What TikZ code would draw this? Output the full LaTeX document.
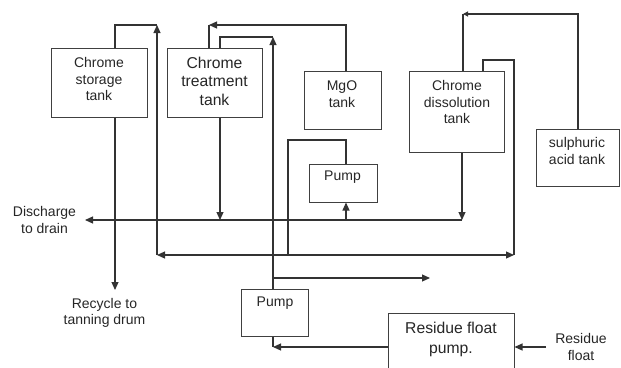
\documentclass[tikz,border=0pt]{standalone}
\usepackage{fontspec}
\setmainfont{Liberation Sans}
\usetikzlibrary{arrows.meta}
\newcommand{\tank}[5]{\node[tank, minimum width=#4pt-#2pt, minimum height=#5pt-#3pt] (#1) at ({(#2+#4)/2},{(#3+#5)/2}) {};}
\newcommand{\tanktext}[4]{\node[tanklabel] (#1) at (#2,#3) {#4};}
\tikzset{
  tank/.style={draw=black!75, line width=1pt, inner sep=0pt},
  tanklabel/.style={align=center, inner sep=0pt, text=black!85, font=\fontsize{14}{16.5}\selectfont},
  biglabel/.style={tanklabel, font=\fontsize{15.7}{18.5}\selectfont},
  pipe/.style={draw=black!80, line width=1.1pt},
  flow/.style={pipe, -{Triangle[length=8pt,width=7pt]}},
  smallflow/.style={pipe, -{Triangle[length=5pt,width=5pt]}}
}
\begin{document}
\begin{tikzpicture}[x=1pt,y=-1pt]
    \useasboundingbox (0,0) rectangle (621,367);
    \clip (0,0) rectangle (621,367);

    % tanks and pumps
    \tank{cst}{51}{48}{147}{117}
    \tank{ctt}{167}{48}{262}{117}
    \tank{mgo}{304}{71}{381}{129}
    \tank{cdt}{409}{71}{504}{152}
    \tank{sat}{536}{129}{619}{186}
    \tank{pumpA}{309}{164}{377}{202}
    \tank{pumpB}{241}{289}{308}{336}
    \tank{rfp}{388}{313}{514}{380}

    \tanktext{cstT}{99}{79}{Chrome\\storage\\tank}
    \node[biglabel] (cttT) at (214.5,81) {Chrome\\treatment\\tank};
    \tanktext{mgoT}{342}{94}{MgO\\tank}
    \tanktext{cdtT}{457}{102}{Chrome\\dissolution\\tank}
    \tanktext{satT}{577}{151}{sulphuric\\acid tank}
    \tanktext{pumpAT}{342.5}{177}{Pump}
    \tanktext{pumpBT}{275}{303}{Pump}
    \node[biglabel, font=\fontsize{15.7}{20}\selectfont] (rfpT) at (451,339) {Residue float\\pump.};
    \tanktext{drainT}{44.5}{220}{Discharge\\to drain}
    \tanktext{recycT}{104.5}{313}{Recycle to\\tanning drum}
    \tanktext{resT}{581}{347}{Residue\\float}

    % junction points
    \coordinate (lpL) at (157,255);
    \coordinate (lpR) at (514,255);
    \coordinate (lpT) at (157,25);
    \coordinate (dtR) at (483,60);
    \coordinate (drain) at (85,220);
    \coordinate (drainR) at (462,220);
    \coordinate (recyc) at (115,290);
    \coordinate (mgoL) at (209,25);
    \coordinate (ptTop) at (273,37);
    \coordinate (fwd) at (430,278);
    \coordinate (pbB) at (273,347);
    \coordinate (resin) at (546,347);
    \coordinate (acidT) at (463,14);

    % circulation loop
    \draw[pipe, {Triangle[length=8pt,width=7pt]}-{Triangle[length=8pt,width=7pt]}] (lpL) -- (lpR);
    \draw[flow] (lpL) -- (lpT);
    \draw[pipe] (cst.north -| 115,0) |- (lpT);
    \draw[pipe] (lpR) |- (dtR) -- (dtR |- cdt.north);

    % discharge and recycle
    \draw[flow] (cst.south -| 115,0) -- (recyc);
    \draw[flow] (cdt.south -| 462,0) -- (drainR);
    \draw[flow] (drainR) -- (drain);
    \draw[flow] (ctt.south -| 220,0) -- (220,0 |- drain);

    % pump next to MgO
    \draw[flow] (346,0 |- drain) -- (pumpA.south -| 346,0);
    \draw[pipe] (pumpA.north -| 346,0) |- (288,140) -- (288,0 |- lpL);

    % MgO feed
    \draw[flow] (mgo.north -| 346,0) |- (mgoL);
    \draw[pipe] (ctt.north -| 209,0) -- (mgoL);

    % lower pump
    \draw[pipe] (ctt.north -| 220,0) |- (ptTop);
    \draw[flow] (pumpB.north -| 273,0) -- (ptTop);
    \draw[flow] (273,0 |- fwd) -- (fwd);
    \draw[pipe] (pumpB.south -| 273,0) -- (pbB);
    \draw[flow] (rfp.west |- pbB) -- (pbB);
    \draw[flow] (resin) -- (rfp.east |- resin);

    % acid feed
    \draw[smallflow] (sat.north -| 578,0) |- (acidT);
    \draw[pipe] (acidT) -- (acidT |- cdt.north);
\end{tikzpicture}
\end{document}
